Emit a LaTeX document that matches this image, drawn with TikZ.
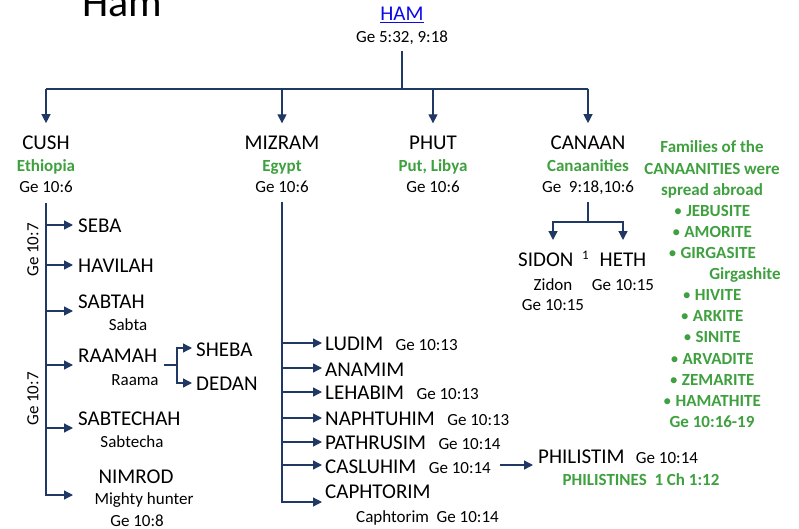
\documentclass[tikz,border=0pt]{standalone}
\usepackage{fontspec}
\setmainfont{Carlito}
\usepackage{tikz}
\usetikzlibrary{arrows.meta,positioning,calc}

\definecolor{navy}{RGB}{32,56,100}
\definecolor{leaf}{RGB}{62,160,62}
\definecolor{hlink}{RGB}{10,10,230}
\newcommand{\dotmark}{{\mdseries\textbullet}\ }

\begin{document}
\begin{tikzpicture}[x=1pt,y=-1pt,
    kin/.style={inner sep=0pt,font=\fontsize{21}{24}\selectfont},
    verse/.style={inner sep=0pt,font=\fontsize{17}{20}\selectfont},
    gloss/.style={inner sep=0pt,text=leaf,font=\fontsize{17}{20}\selectfont\bfseries},
    branch/.style={navy,line width=1.3pt},
    tip/.style={-{Triangle[length=9pt,width=9pt]}}]
    \useasboundingbox (0,0) rectangle (799,529);
    \def\hamTop{
      \node[anchor=base west,inner sep=0pt,font=\fontsize{42}{46}\selectfont] (title) at (82,17) {Ham};
      \node[kin,anchor=base,text=hlink] (ham) at (402,21) {\underline{HAM}};
      \node[verse,anchor=base] (hamref) at (402,43) {Ge 5:32, 9:18};
      \coordinate (hamdrop) at (402,89);
    }
    \def\sons{
      \foreach \x/\id/\txt/\gl/\rf in {46/cush/CUSH/Ethiopia/{Ge 10:6},
          282/mizram/MIZRAM/Egypt/{Ge 10:6},
          433/phut/PHUT/{Put, Libya}/{Ge 10:6},
          588/canaan/CANAAN/Canaanities/{Ge\ \ 9:18,10:6}} {
        \node[kin,anchor=base] (\id) at (\x,150) {\txt};
        \node[gloss,anchor=base] (\id-gl) at (\x,172) {\gl};
        \node[verse,anchor=base] (\id-ref) at (\x,193) {\rf};
      }
      % Draw links from HAM
      \draw[branch] ([yshift=-6pt]hamref.south) -- (hamdrop);
      \draw[branch] (cush |- hamdrop) -- (canaan |- hamdrop);
      \foreach \s in {cush,mizram,phut,canaan}
        \draw[branch,tip] (\s |- hamdrop) -- ([yshift=13pt]\s.north);
    }
    \def\cushLine{
      \coordinate (cushtop) at (46,203);
      \coordinate (nimrod-in) at (73,495);
      \foreach \id/\txt/\ay/\by in {seba/SEBA/225/232, havilah/HAVILAH/265/272,
          sabtah/SABTAH/311/308, raamah/RAAMAH/365/362, sabtechah/SABTECHAH/428/425} {
        \coordinate (\id-in) at (73,\ay);
        \node[kin,anchor=base west] (\id) at (78,\by) {\txt};
        \draw[branch,tip] (cushtop |- \id-in) -- (\id-in);
      }
      % Draw trunk
      \draw[branch,tip] (cushtop) -- (cushtop |- nimrod-in) -- (nimrod-in);
      \node[kin,anchor=base] (nimrod) at (136,483) {NIMROD};
      \node[verse,anchor=base] (sabta) at (128,330) {Sabta};
      \node[verse,anchor=base] (raama) at (135,385) {Raama};
      \node[verse,anchor=base] (sabtecha) at (132,447) {Sabtecha};
      \node[verse,anchor=base] (mighty) at (144,504) {Mighty hunter};
      \node[verse,anchor=base] (nimrod-ref) at (137,526) {Ge 10:8};
      \node[verse,rotate=90] (cushref-a) at (33,250) {Ge 10:7};
      \node[verse,rotate=90] (cushref-b) at (33,399) {Ge 10:7};
      % Sons of RAAMAH
      \coordinate (raamahfork) at (177,365);
      \coordinate (sheba-in) at (192,348);
      \coordinate (dedan-in) at (192,383);
      \draw[branch] ([xshift=7pt]raamah.east |- raamah-in) -- (raamahfork);
      \draw[branch,tip] (raamahfork) |- (sheba-in);
      \draw[branch,tip] (raamahfork) |- (dedan-in);
      \node[kin,anchor=base west] (sheba) at (196,356) {SHEBA};
      \node[kin,anchor=base west] (dedan) at (196,390) {DEDAN};
    }
    \def\mizramLine{
      \coordinate (miztop) at (282,202);
      \foreach \id/\txt/\ay/\by in {ludim/LUDIM/343/350, anamim/ANAMIM/368/376,
          lehabim/LEHABIM/392/399, naphtuhim/NAPHTUHIM/418/425,
          pathrusim/PATHRUSIM/442/449, casluhim/CASLUHIM/465/473,
          caphtorim/CAPHTORIM/502/498} {
        \coordinate (\id-in) at (322,\ay);
        \node[kin,anchor=base west] (\id) at (325,\by) {\txt};
      }
      % Draw trunk
      \draw[branch,tip] (miztop) -- (miztop |- caphtorim-in) -- (caphtorim-in);
      \foreach \id in {ludim,anamim,lehabim,naphtuhim,pathrusim,casluhim}
        \draw[branch,tip] (miztop |- \id-in) -- (\id-in);
      \foreach \id/\rf in {ludim/{Ge 10:13}, lehabim/{Ge 10:13}, naphtuhim/{Ge 10:13},
          pathrusim/{Ge 10:14}, casluhim/{Ge 10:14}}
        \node[verse,right=12pt of \id.base east,anchor=base west] (\id-ref) {\rf};
      \node[verse,anchor=base west] (caphtorim-ref) at (356,522) {Caphtorim\ \ Ge 10:14};
      % Philistines
      \node[kin,anchor=base west] (philistim) at (538,463) {PHILISTIM};
      \node[verse,right=11pt of philistim.base east,anchor=base west] (philistim-ref) {Ge 10:14};
      \node[gloss,anchor=base] (philistines) at (641,485) {PHILISTINES\ \ 1 Ch 1:12};
      \draw[branch,tip] ([xshift=9pt]casluhim-ref.east |- casluhim-in)
        -- ([xshift=-5pt]philistim.west |- casluhim-in);
    }
    \def\canaanLine{
      \coordinate (candrop) at (588,202);
      \coordinate (canfork) at (588,222);
      \coordinate (sidon-in) at (553,240);
      \coordinate (heth-in) at (623,240);
      \draw[branch] (candrop) -- (canfork);
      \draw[branch,tip] (canfork) -| (sidon-in);
      \draw[branch,tip] (canfork) -| (heth-in);
      \node[kin,anchor=base west] (sidon) at (518,266) {SIDON};
      \node[anchor=base west,inner sep=0pt,font=\fontsize{13}{15}\selectfont] (sidon-note) at (582,259) {1};
      \node[kin,anchor=base] (heth) at (623,266) {HETH};
      \node[verse,anchor=base] (zidon) at (553,290) {Zidon};
      \node[verse,anchor=base] (sidon-ref) at (553,310) {Ge 10:15};
      \node[verse,anchor=base] (heth-ref) at (623,290) {Ge 10:15};
    }
    \def\families{
      \foreach \i/\txt/\x in {0/{Families of the}/712, 1/{CANAANITIES were}/712,
          2/{spread abroad}/712, 3/{\dotmark JEBUSITE}/712,
          4/{\dotmark AMORITE}/712, 5/{\dotmark GIRGASITE}/712,
          6/{Girgashite}/745, 7/{\dotmark HIVITE}/712,
          8/{\dotmark ARKITE}/712, 9/{\dotmark SINITE}/712,
          10/{\dotmark ARVADITE}/712, 11/{\dotmark ZEMARITE}/712,
          12/{\dotmark HAMATHITE}/712, 13/{Ge 10:16-19}/712}
        \node[gloss,anchor=base] (fam\i) at (\x,{153+21.1*\i}) {\txt};
    }
    \hamTop
    \sons
    \cushLine
    \mizramLine
    \canaanLine
    \families
  \end{tikzpicture}
\end{document}
